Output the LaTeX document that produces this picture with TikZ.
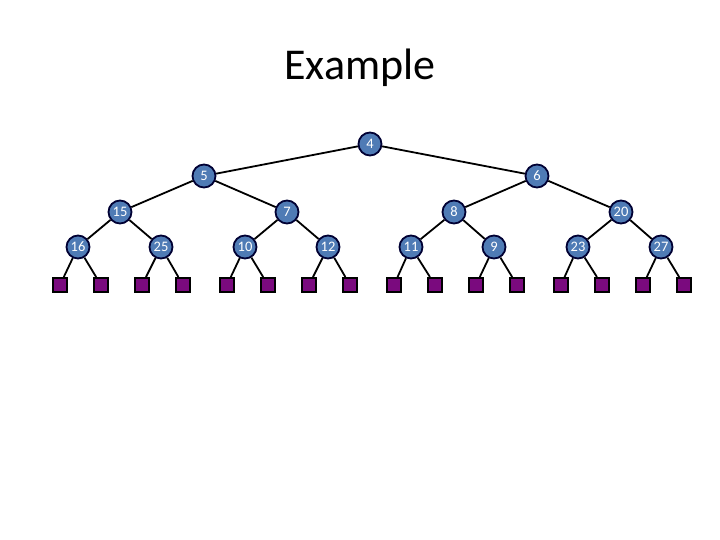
\documentclass[tikz,border=0pt]{standalone}
\usepackage{fontspec}
\setmainfont{Carlito}
\begin{document}
\begin{tikzpicture}[x=1pt,y=-1pt,
  tnode/.style={circle,draw=black!80!blue,line width=1.8pt,fill=nodeblue,minimum size=23pt,inner sep=0pt,text=white,font=\fontsize{14.5}{14.5}\selectfont},
  leaf/.style={rectangle,draw=black,line width=2.4pt,fill=leafpurple,minimum size=13.5pt,inner sep=0pt},
  edge/.style={draw=black,line width=1.8pt}]
\definecolor{nodeblue}{HTML}{4F7BB5}
\definecolor{leafpurple}{HTML}{7A0A7E}
\useasboundingbox (0,0) rectangle (720,540);
\node[font=\fontsize{44}{44}\selectfont] (title) at (360,68) {Example};
% level 1
\node[tnode] (n4) at (370,144) {4};
% level 2
\node[tnode] (n5) at (204,176) {5};
\node[tnode] (n6) at (537,176) {6};
% level 3
\node[tnode] (n15) at (120,212) {15};
\node[tnode] (n7) at (287,212) {7};
\node[tnode] (n8) at (454,212) {8};
\node[tnode] (n20) at (621,212) {20};
% level 4
\node[tnode] (n16) at (78,247) {16};
\node[tnode] (n25) at (161,247) {25};
\node[tnode] (n10) at (245,247) {10};
\node[tnode] (n12) at (328,247) {12};
\node[tnode] (n11) at (411,247) {11};
\node[tnode] (n9) at (494,247) {9};
\node[tnode] (n23) at (578,247) {23};
\node[tnode] (n27) at (661,247) {27};
% leaves
\foreach \i/\x in {1/60,2/101,3/142,4/183,5/227,6/268,7/309,8/350,9/394,10/435,11/476,12/517,13/561,14/602,15/643,16/684}
  \node[leaf] (l\i) at (\x,285) {};
% edges
\foreach \a/\b in {n4/n5,n4/n6,n5/n15,n5/n7,n6/n8,n6/n20,n15/n16,n15/n25,n7/n10,n7/n12,n8/n11,n8/n9,n20/n23,n20/n27,
  n16/l1,n16/l2,n25/l3,n25/l4,n10/l5,n10/l6,n12/l7,n12/l8,n11/l9,n11/l10,n9/l11,n9/l12,n23/l13,n23/l14,n27/l15,n27/l16}
  \draw[edge] (\a) -- (\b);
\end{tikzpicture}
\end{document}
